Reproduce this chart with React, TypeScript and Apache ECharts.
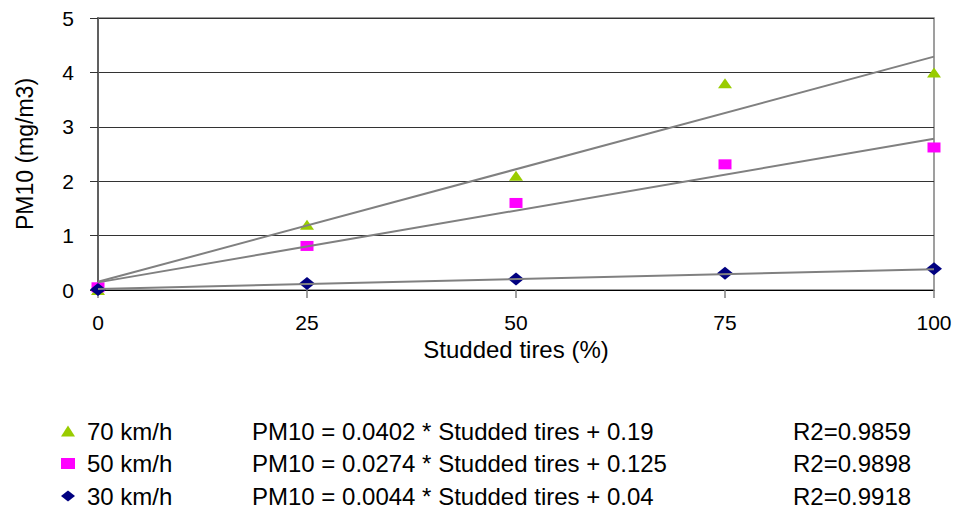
import React, { useEffect, useRef } from "react";
import * as echarts from "echarts";

const studdedShare = [0, 25, 50, 75, 100];
const pm70 = [0, 1.2, 2.1, 3.8, 4.0];
const pm50 = [0.05, 0.81, 1.6, 2.31, 2.62];
const pm30 = [0.01, 0.12, 0.2, 0.31, 0.39];
const trendX = [0, 100];
const trend70 = [0.15, 4.29];
const trend50 = [0.14, 2.78];
const trend30 = [0.02, 0.38];
const seriesNames = ["70 km/h", "50 km/h", "30 km/h"];
const equations = [
  "PM10 = 0.0402 * Studded tires + 0.19",
  "PM10 = 0.0274 * Studded tires + 0.125",
  "PM10 = 0.0044 * Studded tires + 0.04",
];
const r2Labels = ["R2=0.9859", "R2=0.9898", "R2=0.9918"];
const yTicks = [0, 1, 2, 3, 4, 5];
const xTicks = [0, 25, 50, 75, 100];

const FONT = "'Liberation Sans', Arial, sans-serif";

export default function App() {
  const ref = useRef<HTMLDivElement>(null);
  useEffect(() => {
    if (!ref.current) return;
    const chart = echarts.init(ref.current, null, { renderer: "svg" });
    const pts = (ys: number[]) => studdedShare.map((x, i) => [x, ys[i]]);
    const trend = (ys: number[]) => trendX.map((x, i) => [x, ys[i]]);
    const trendStyle = { color: "#808080", width: 2 };
    chart.setOption({
      animation: false,
      textStyle: { fontFamily: FONT },
      grid: {
        left: 98,
        right: 27,
        top: 18,
        bottom: 221,
        show: true,
        borderColor: "#808080",
        borderWidth: 1.5,
        backgroundColor: "transparent",
      },
      xAxis: {
        type: "value",
        min: xTicks[0],
        max: xTicks[xTicks.length - 1],
        interval: 25,
        name: "Studded tires (%)",
        nameLocation: "middle",
        nameGap: 42,
        nameTextStyle: { fontSize: 24, color: "#000", fontFamily: FONT },
        axisLine: { show: true, lineStyle: { color: "#000", width: 1 } },
        axisTick: { show: true, length: 8, lineStyle: { color: "#808080", width: 1.5 } },
        axisLabel: { fontSize: 21, color: "#000", margin: 22, fontFamily: FONT },
        splitLine: { show: false },
      },
      yAxis: {
        type: "value",
        min: yTicks[0],
        max: yTicks[yTicks.length - 1],
        interval: 1,
        name: "PM10 (mg/m3)",
        nameLocation: "middle",
        nameGap: 62,
        nameTextStyle: { fontSize: 23, color: "#000", fontFamily: FONT },
        axisLine: { show: true, lineStyle: { color: "#606060", width: 2 } },
        axisTick: { show: true, length: 8, lineStyle: { color: "#333", width: 1 } },
        axisLabel: { fontSize: 21, color: "#000", margin: 24, fontFamily: FONT },
        splitLine: { show: true, lineStyle: { color: "#333", width: 1 } },
      },
      legend: {
        show: true,
        orient: "vertical",
        left: 61,
        top: 419,
        height: 92,
        padding: 0,
        itemWidth: 14,
        itemHeight: 11,
        symbolKeepAspect: false,
        itemGap: 8.5,
        data: seriesNames,
        formatter: (name: string) => {
          const i = seriesNames.indexOf(name);
          return `{a|${name}}{b|${equations[i]}}{c|${r2Labels[i]}}`;
        },
        textStyle: {
          fontFamily: FONT,
          fontSize: 24,
          color: "#000",
          rich: {
            a: { width: 165, padding: [0, 0, 0, 7], fontSize: 24, lineHeight: 26, fontFamily: FONT },
            b: { width: 541, fontSize: 24, lineHeight: 26, fontFamily: FONT },
            c: { fontSize: 24, lineHeight: 26, fontFamily: FONT },
          },
        },
      },
      series: [
        {
          name: seriesNames[0],
          type: "scatter",
          symbol: "triangle",
          symbolSize: [14, 10],
          itemStyle: { color: "#99CC00", opacity: 1 },
          data: pts(pm70),
          z: 3,
        },
        {
          name: seriesNames[1],
          type: "scatter",
          symbol: "rect",
          symbolSize: [13, 10],
          itemStyle: { color: "#FF00FF", opacity: 1 },
          data: pts(pm50),
          z: 3,
        },
        {
          name: seriesNames[2],
          type: "scatter",
          symbol: "diamond",
          symbolSize: [16, 13],
          itemStyle: { color: "#000080", opacity: 1 },
          data: pts(pm30),
          z: 3,
        },
        {
          type: "line",
          data: trend(trend70),
          showSymbol: false,
          symbol: "none",
          silent: true,
          lineStyle: trendStyle,
          z: 4,
        },
        {
          type: "line",
          data: trend(trend50),
          showSymbol: false,
          symbol: "none",
          silent: true,
          lineStyle: trendStyle,
          z: 4,
        },
        {
          type: "line",
          data: trend(trend30),
          showSymbol: false,
          symbol: "none",
          silent: true,
          lineStyle: trendStyle,
          z: 4,
        },
      ],
    });
    return () => chart.dispose();
  }, []);
  return <div ref={ref} style={{ width: 961, height: 511, position: "absolute", left: 0, top: 0, background: "#fff" }} />;
}
